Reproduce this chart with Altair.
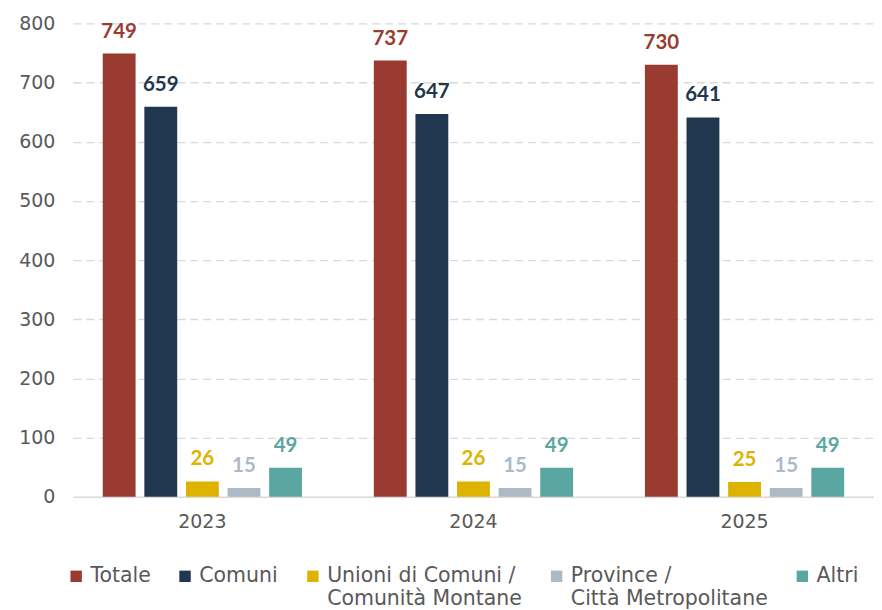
import altair as alt
import pandas as pd

years = ["2023", "2024", "2025"]
categories = [
    "Totale",
    "Comuni",
    "Unioni di Comuni / Comunità Montane",
    "Province / Città Metropolitane",
    "Altri",
]
totale = [749, 737, 730]
comuni = [659, 647, 641]
unioni = [26, 26, 25]
province = [15, 15, 15]
altri = [49, 49, 49]
colors = ["#9A3B31", "#20374F", "#DDB300", "#ADBAC6", "#5AA6A1"]
y_ticks = [0, 100, 200, 300, 400, 500, 600, 700, 800]

series = [totale, comuni, unioni, province, altri]
rows = []
for i, yr in enumerate(years):
    for cat, vals in zip(categories, series):
        rows.append({"Anno": yr, "Categoria": cat, "Valore": vals[i]})
df = pd.DataFrame(rows)

label_expr = (
    "indexof(datum.label, ' / ') > 0 ? "
    "[substring(datum.label, 0, indexof(datum.label, ' / ') + 2), "
    "substring(datum.label, indexof(datum.label, ' / ') + 3)] : [datum.label, '']"
)

legend = alt.Legend(
    title=None,
    orient="none",
    legendX=-7,
    legendY=543,
    direction="horizontal",
    columns=5,
    symbolType="square",
    symbolSize=130,
    symbolStrokeWidth=0,
    labelFont="DejaVu Sans",
    labelFontSize=20.5,
    labelColor="#595959",
    columnPadding=24,
    labelOffset=4,
    labelLimit=400,
    labelExpr=label_expr,
)

color = alt.Color(
    "Categoria:N",
    sort=categories,
    scale=alt.Scale(domain=categories, range=colors),
    legend=legend,
)

base = alt.Chart(df).encode(
    x=alt.X(
        "Anno:N",
        sort=years,
        scale=alt.Scale(paddingInner=0.265, paddingOuter=0.11),
        axis=alt.Axis(
            title=None,
            labelAngle=0,
            ticks=False,
            grid=False,
            domainColor="#d9d9d9",
            domainWidth=1.5,
            labelFont="DejaVu Sans",
            labelFontSize=19,
            labelColor="#595959",
            labelPadding=16,
        ),
    ),
    xOffset=alt.XOffset(
        "Categoria:N", sort=categories, scale=alt.Scale(paddingInner=0.21)
    ),
    y=alt.Y(
        "Valore:Q",
        scale=alt.Scale(domain=[0, 800]),
        axis=alt.Axis(
            title=None,
            values=y_ticks,
            domain=False,
            ticks=False,
            grid=True,
            gridColor="#d9d9d9",
            gridDash=[8, 5],
            gridWidth=1.3,
            gridOpacity={"condition": {"test": "datum.value === 0", "value": 0}, "value": 1},
            labelFont="DejaVu Sans",
            labelFontSize=19,
            labelColor="#595959",
            labelPadding=18,
        ),
    ),
    color=color,
)

bars = base.mark_bar()
labels = base.mark_text(
    font="Lato", fontWeight="bold", fontSize=20.5, dy=-16, baseline="alphabetic"
).encode(text="Valore:Q")

chart = (
    alt.layer(bars, labels)
    .properties(
        width=802,
        height=474,
        padding={"left": 10, "top": 6, "right": 0, "bottom": 0},
        background="white",
    )
    .configure_view(stroke=None)
)

chart.save("out.html", embed_options={"renderer": "svg", "actions": False})
